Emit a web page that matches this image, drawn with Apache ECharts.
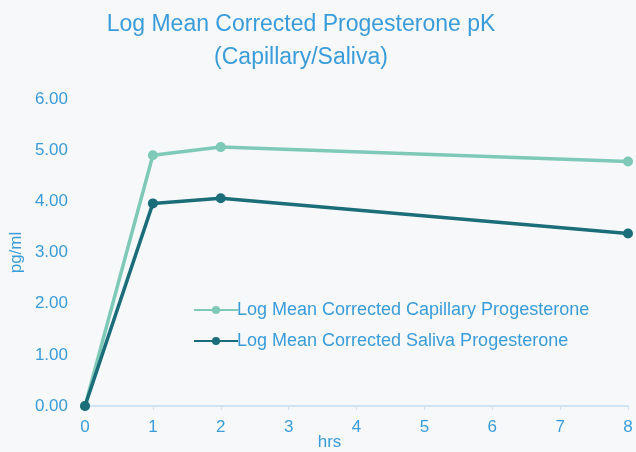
<!DOCTYPE html>
<html>
<head>
<meta charset="utf-8">
<script src="https://cdn.jsdelivr.net/npm/echarts@6/dist/echarts.min.js"></script>
<style>
  html, body { margin: 0; padding: 0; background: #f7f8f9; }
  #chart { width: 636px; height: 452px; }
</style>
</head>
<body>
<div id="chart"></div>
<script>
// hours after dose
const hours = [0, 1, 2, 8]
const capillary = [0, 4.9, 5.06, 4.78]
const saliva = [0, 3.96, 4.06, 3.37]
const names = ['Log Mean Corrected Capillary Progesterone', 'Log Mean Corrected Saliva Progesterone']

const blue = '#3a9cda'
const myChart = echarts.init(document.getElementById('chart'))

const mk = (name, ys, color) => ({
  name: name,
  type: 'line',
  data: hours.map((h, i) => [h, ys[i]]),
  symbol: 'circle',
  symbolSize: 10,
  lineStyle: { color: color, width: 3.5 },
  itemStyle: { color: color },
  z: name === names[1] ? 3 : 2
})

myChart.setOption({
  backgroundColor: '#f7f8f9',
  title: {
    text: 'Log Mean Corrected Progesterone pK\n(Capillary/Saliva)',
    left: 296,
    top: 3,
    textAlign: 'center',
    textStyle: {
      color: blue, fontSize: 23, fontWeight: 'normal',
      fontFamily: 'Liberation Sans', lineHeight: 33
    }
  },
  legend: {
    orient: 'vertical',
    left: 188,
    top: 296,
    itemWidth: 44,
    itemHeight: 10,
    itemGap: 13,
    itemStyle: { borderWidth: 0 },
    textStyle: { color: blue, fontSize: 18, fontFamily: 'Liberation Sans', padding: [0, 0, 0, -6] },
    data: names
  },
  grid: { left: 85, right: 8, top: 99, bottom: 46, outerBoundsMode: 'none' },
  xAxis: {
    type: 'value',
    min: 0, max: 8, interval: 1,
    name: 'hrs',
    nameLocation: 'middle',
    nameGap: 28,
    nameMoveOverlap: false,
    nameTextStyle: { color: blue, fontSize: 17, fontFamily: 'Liberation Sans', padding: [0, 54, 0, 0] },
    axisLine: { lineStyle: { color: '#cfe3f2', width: 2 } },
    axisTick: { show: true, length: 4, lineStyle: { color: '#cfe3f2' } },
    axisLabel: { color: blue, fontSize: 17, fontFamily: 'Liberation Sans', margin: 13 },
    splitLine: { show: false }
  },
  yAxis: {
    type: 'value',
    min: 0, max: 6, interval: 1,
    name: 'pg/ml',
    nameLocation: 'middle',
    nameGap: 60,
    nameMoveOverlap: false,
    nameTextStyle: { color: blue, fontSize: 17, fontFamily: 'Liberation Sans' },
    axisLine: { show: false },
    axisTick: { show: false },
    axisLabel: { color: blue, fontSize: 17, fontFamily: 'Liberation Sans', margin: 17, formatter: v => v.toFixed(2) },
    splitLine: { show: false }
  },
  series: [
    mk(names[0], capillary, '#7ec9b8'),
    mk(names[1], saliva, '#1a6d79')
  ]
})
</script>
</body>
</html>
